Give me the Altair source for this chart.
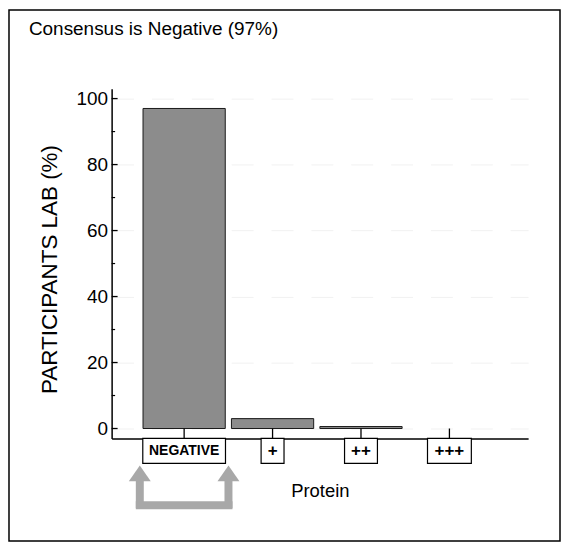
import altair as alt
import pandas as pd

# ---- data ----
CATEGORIES = ["NEGATIVE", "+", "++", "+++"]
PERCENT = [97, 3, 0.6, 0]
Y_MAJOR = [0, 20, 40, 60, 80, 100]
Y_MINOR = [10, 30, 50, 70, 90]
TITLE = "Consensus is Negative (97%)"
Y_TITLE = "PARTICIPANTS LAB (%)"
X_TITLE = "Protein"

# ---- layout / style ----
W, H = 418, 351
X_DOM = [-0.82, 3.89]
Y_DOM = [-3, 103]
PXU = W / (X_DOM[1] - X_DOM[0])
BAR_HALF = 0.465
BOX_W = {"NEGATIVE": 83, "+": 23, "++": 33, "+++": 44}
FONT = "Liberation Sans"
GRAY_BAR = "#8c8c8c"
ARROW = "#a8a8a8"

df = pd.DataFrame({"cat": CATEGORIES, "pct": PERCENT, "idx": list(range(len(CATEGORIES)))})
df["lo"] = df["idx"] - BAR_HALF
df["hi"] = df["idx"] + BAR_HALF
df["blo"] = df["idx"] - df["cat"].map(BOX_W) / 2 / PXU
df["bhi"] = df["idx"] + df["cat"].map(BOX_W) / 2 / PXU
df["zero"] = 0
df["ybot"] = Y_DOM[0]
df["is_word"] = df["cat"].str.isalpha()

xs = alt.Scale(domain=X_DOM, nice=False, zero=False)
ys = alt.Scale(domain=Y_DOM, nice=False, zero=False)

base = alt.Chart(df)

bars = base.transform_filter("datum.pct > 0").mark_rect(
    fill=GRAY_BAR, stroke="#1a1a1a", strokeWidth=1
).encode(
    x=alt.X("lo:Q", scale=xs, axis=alt.Axis(
        title=X_TITLE, labels=False, ticks=False, grid=False,
        domainColor="black", domainWidth=1.5,
        titleFont=FONT, titleFontSize=18.5, titleFontWeight="normal",
        titlePadding=43, titleColor="black")),
    x2="hi:Q",
    y=alt.Y("pct:Q", scale=ys, axis=alt.Axis(
        title=Y_TITLE, values=Y_MAJOR, ticks=False, labelPadding=4,
        labelFont=FONT, labelFontSize=19, labelColor="black",
        domainColor="black", domainWidth=1.5,
        grid=True, gridColor="#f1f1f1", gridDash=[22, 18],
        titleFont=FONT, titleFontSize=22.5, titleFontWeight="normal",
        titleColor="black", titleAngle=270, titleX=-50, titleY=181,
        titleBaseline="bottom", titleAlign="center")),
    y2="zero:Q",
)

major = alt.Chart(pd.DataFrame({"v": Y_MAJOR})).mark_rule(color="black", strokeWidth=1.3).encode(
    y=alt.Y("v:Q", scale=ys), x=alt.value(0), x2=alt.value(6))
minor = alt.Chart(pd.DataFrame({"v": Y_MINOR})).mark_rule(color="black", strokeWidth=1.2).encode(
    y=alt.Y("v:Q", scale=ys), x=alt.value(0), x2=alt.value(3.5))

xticks = base.mark_rule(color="black", strokeWidth=1.3).encode(
    x=alt.X("idx:Q", scale=xs), y=alt.Y("ybot:Q", scale=ys), y2="zero:Q")

boxes = base.mark_rect(fill="white", stroke="black", strokeWidth=1.2).encode(
    x=alt.X("blo:Q", scale=xs), x2="bhi:Q", y=alt.value(H), y2=alt.value(H + 25))

labels = base.mark_text(font=FONT, fontWeight="bold", baseline="middle", align="center", color="black").encode(
    x=alt.X("idx:Q", scale=xs), y=alt.value(H + 13), text="cat:N",
    size=alt.condition("datum.is_word", alt.value(14), alt.value(17)))

neg_lo = float(df.loc[0, "blo"])
neg_hi = float(df.loc[0, "bhi"])
arr = pd.DataFrame({"ax": [neg_lo - 3 / PXU, neg_hi + 3 / PXU]})
arr_h = pd.DataFrame({"l": [arr["ax"].min()], "r": [arr["ax"].max()]})

heads = alt.Chart(arr).mark_point(
    shape="M0,-0.72L1,0.72L-1,0.72Z", filled=True, color=ARROW, opacity=1, size=484
).encode(x=alt.X("ax:Q", scale=xs), y=alt.value(H + 35))
shafts = alt.Chart(arr).mark_rule(color=ARROW, strokeWidth=8).encode(
    x=alt.X("ax:Q", scale=xs), y=alt.value(H + 41), y2=alt.value(H + 70))
connector = alt.Chart(arr_h).mark_rule(color=ARROW, strokeWidth=8, strokeCap="square").encode(
    x=alt.X("l:Q", scale=xs), x2="r:Q", y=alt.value(H + 67))

title = alt.Chart(pd.DataFrame({"t": [TITLE]})).mark_text(
    font=FONT, fontSize=19, align="left", baseline="alphabetic", color="black"
).encode(x=alt.value(-83), y=alt.value(-53.5), text="t:N")

border = alt.Chart(pd.DataFrame({"b": [0]})).mark_rect(
    fillOpacity=0, fill="white", stroke="black", strokeWidth=1.5
).encode(x=alt.value(-103), x2=alt.value(450), y=alt.value(-79), y2=alt.value(454))

chart = alt.layer(
    bars, major, minor, xticks, boxes, labels, heads, shafts, connector, title, border
).properties(
    width=W, height=H, padding=0, background="white"
).configure_view(stroke=None)

chart.save("out.html", embed_options={"renderer": "svg", "actions": False})
